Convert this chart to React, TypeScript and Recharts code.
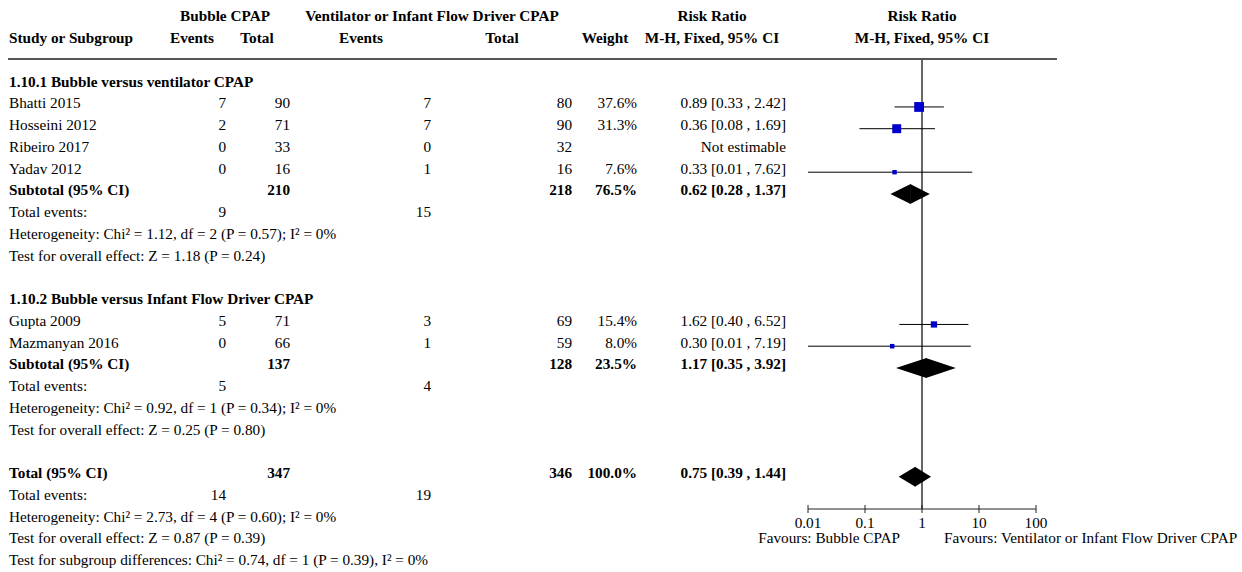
import React from 'react';
import {
  ComposedChart,
  XAxis,
  YAxis,
  Scatter,
  ReferenceLine,
  ReferenceDot,
  ReferenceArea,
} from 'recharts';

const FONT = '"Liberation Serif", "Times New Roman", Times, serif';
const FS = 15.25;

// ---------------- data ----------------
const subgroupTitles = [
  '1.10.1 Bubble versus ventilator CPAP',
  '1.10.2 Bubble versus Infant Flow Driver CPAP',
];
const studyNames = ['Bhatti 2015', 'Hosseini 2012', 'Ribeiro 2017', 'Yadav 2012', 'Gupta 2009', 'Mazmanyan 2016'];
const studySubgroup = [0, 0, 0, 0, 1, 1];
const bubbleEvents = [7, 2, 0, 0, 5, 0];
const bubbleTotals = [90, 71, 33, 16, 71, 66];
const ventEvents = [7, 7, 0, 1, 3, 1];
const ventTotals = [80, 90, 32, 16, 69, 59];
const studyWeights: (number | null)[] = [37.6, 31.3, null, 7.6, 15.4, 8.0];
const studyRR: (number | null)[] = [0.89, 0.36, null, 0.33, 1.62, 0.3];
const studyLow: (number | null)[] = [0.33, 0.08, null, 0.01, 0.4, 0.01];
const studyHigh: (number | null)[] = [2.42, 1.69, null, 7.62, 6.52, 7.19];

const subBubbleEvents = [9, 5];
const subBubbleTotals = [210, 137];
const subVentEvents = [15, 4];
const subVentTotals = [218, 128];
const subWeights = [76.5, 23.5];
const subRR = [0.62, 1.17];
const subLow = [0.28, 0.35];
const subHigh = [1.37, 3.92];
const subHeterogeneity = [
  'Heterogeneity: Chi² = 1.12, df = 2 (P = 0.57); I² = 0%',
  'Heterogeneity: Chi² = 0.92, df = 1 (P = 0.34); I² = 0%',
];
const subOverallEffect = [
  'Test for overall effect: Z = 1.18 (P = 0.24)',
  'Test for overall effect: Z = 0.25 (P = 0.80)',
];

const totalBubbleEvents = 14;
const totalBubbleTotal = 347;
const totalVentEvents = 19;
const totalVentTotal = 346;
const totalWeight = 100.0;
const totalRR = 0.75;
const totalLow = 0.39;
const totalHigh = 1.44;
const totalHeterogeneity = 'Heterogeneity: Chi² = 2.73, df = 4 (P = 0.60); I² = 0%';
const totalOverallEffect = 'Test for overall effect: Z = 0.87 (P = 0.39)';
const subgroupDifferences = 'Test for subgroup differences: Chi² = 0.74, df = 1 (P = 0.39), I² = 0%';

const axisTicks = [0.01, 0.1, 1, 10, 100];
const favoursLeft = 'Favours: Bubble CPAP';
const favoursRight = 'Favours: Ventilator or Infant Flow Driver CPAP';

// ---------------- layout ----------------
const COL = { name: 9, be: 226, bt: 290, ve: 431, vt: 572, w: 637, rr: 786 };
const Y_DOMAIN: [number, number] = [-1.2046, 19.485];

const headerTop = [
  { text: 'Bubble CPAP', x: 225 },
  { text: 'Ventilator or Infant Flow Driver CPAP', x: 432 },
  { text: 'Risk Ratio', x: 712 },
  { text: 'Risk Ratio', x: 922 },
];
const headerBottom = [
  { text: 'Study or Subgroup', x: 9, anchor: 'start' },
  { text: 'Events', x: 192 },
  { text: 'Total', x: 257 },
  { text: 'Events', x: 361 },
  { text: 'Total', x: 502 },
  { text: 'Weight', x: 605 },
  { text: 'M-H, Fixed, 95% CI', x: 712 },
  { text: 'M-H, Fixed, 95% CI', x: 922 },
];

// ---------------- rows ----------------
type Row = {
  kind: 'title' | 'study' | 'subtotal' | 'events' | 'note' | 'blank';
  label?: string;
  be?: number;
  bt?: number;
  ve?: number;
  vt?: number;
  w?: number | null;
  rr?: number | null;
  lo?: number | null;
  hi?: number | null;
};

const rows: Row[] = [];
subgroupTitles.forEach((title, g) => {
  rows.push({ kind: 'title', label: title });
  studyNames.forEach((name, i) => {
    if (studySubgroup[i] !== g) return;
    rows.push({
      kind: 'study',
      label: name,
      be: bubbleEvents[i],
      bt: bubbleTotals[i],
      ve: ventEvents[i],
      vt: ventTotals[i],
      w: studyWeights[i],
      rr: studyRR[i],
      lo: studyLow[i],
      hi: studyHigh[i],
    });
  });
  rows.push({
    kind: 'subtotal',
    label: 'Subtotal (95% CI)',
    bt: subBubbleTotals[g],
    vt: subVentTotals[g],
    w: subWeights[g],
    rr: subRR[g],
    lo: subLow[g],
    hi: subHigh[g],
  });
  rows.push({ kind: 'events', label: 'Total events:', be: subBubbleEvents[g], ve: subVentEvents[g] });
  rows.push({ kind: 'note', label: subHeterogeneity[g] });
  rows.push({ kind: 'note', label: subOverallEffect[g] });
  rows.push({ kind: 'blank' });
});
rows.push({
  kind: 'subtotal',
  label: 'Total (95% CI)',
  bt: totalBubbleTotal,
  vt: totalVentTotal,
  w: totalWeight,
  rr: totalRR,
  lo: totalLow,
  hi: totalHigh,
});
rows.push({ kind: 'events', label: 'Total events:', be: totalBubbleEvents, ve: totalVentEvents });
rows.push({ kind: 'note', label: totalHeterogeneity });
rows.push({ kind: 'note', label: totalOverallEffect });
rows.push({ kind: 'note', label: subgroupDifferences });

const fmtRR = (r: Row) =>
  r.rr == null ? 'Not estimable' : `${r.rr.toFixed(2)} [${(r.lo as number).toFixed(2)} , ${(r.hi as number).toFixed(2)}]`;

const studyPoints = rows
  .map((r, i) => ({ ...r, y: i, x: r.rr }))
  .filter((r) => r.kind === 'study' && r.rr != null);
const diamondRows = rows.map((r, i) => ({ ...r, y: i })).filter((r) => r.kind === 'subtotal');
const ciRows = studyPoints;

// ---------------- drawing helpers ----------------
const T = (props: any) => (
  <text
    fontFamily={FONT}
    fontSize={FS}
    fill="#000"
    textAnchor={props.anchor || 'start'}
    fontWeight={props.bold ? 'bold' : 'normal'}
    x={props.x}
    y={props.y}
  >
    {props.children}
  </text>
);

const RowText = ({ cy, row }: { cy: number; row: Row }) => {
  const y = cy + 1.5;
  const bold = row.kind === 'title' || row.kind === 'subtotal';
  const cells: React.ReactNode[] = [];
  if (row.label) cells.push(<T key="n" x={COL.name} y={y} bold={bold}>{row.label}</T>);
  if (row.be != null) cells.push(<T key="be" x={COL.be} y={y} anchor="end" bold={bold}>{row.be}</T>);
  if (row.bt != null) cells.push(<T key="bt" x={COL.bt} y={y} anchor="end" bold={bold}>{row.bt}</T>);
  if (row.ve != null) cells.push(<T key="ve" x={COL.ve} y={y} anchor="end" bold={bold}>{row.ve}</T>);
  if (row.vt != null) cells.push(<T key="vt" x={COL.vt} y={y} anchor="end" bold={bold}>{row.vt}</T>);
  if (row.kind === 'study' || row.kind === 'subtotal') {
    if (row.w != null) cells.push(<T key="w" x={COL.w} y={y} anchor="end" bold={bold}>{row.w.toFixed(1) + '%'}</T>);
    cells.push(<T key="rr" x={COL.rr} y={y} anchor="end" bold={bold}>{fmtRR(row)}</T>);
  }
  return <g>{cells}</g>;
};

const SquareShape = (p: any) => {
  const s = 1.6 * Math.sqrt(p.payload.w);
  return <rect x={p.cx - s / 2} y={p.cy - s / 2} width={s} height={s} fill="#0000CC" />;
};

const LeftHalf = (p: any) => (
  <polygon
    points={`${p.x},${p.y + p.height / 2} ${p.x + p.width + 0.5},${p.y} ${p.x + p.width + 0.5},${p.y + p.height}`}
    fill="#000"
  />
);
const RightHalf = (p: any) => (
  <polygon
    points={`${p.x},${p.y} ${p.x + p.width},${p.y + p.height / 2} ${p.x},${p.y + p.height}`}
    fill="#000"
  />
);
const NullLine = (p: any) => (
  <line x1={p.x} x2={p.x} y1={p.y} y2={p.y + p.height} stroke="#666" strokeWidth={2} />
);

const AxisTick = (p: any) => (
  <g>
    <line x1={p.x} x2={p.x} y1={p.y - 4} y2={p.y + 4} stroke="#222" strokeWidth={1} />
    <text x={p.x} y={p.y + 19} textAnchor="middle" fontFamily={FONT} fontSize={FS} fill="#000">
      {String(p.payload.value)}
    </text>
  </g>
);

const FavoursLabel = (p: any) => {
  const vb = p.viewBox || { x: 808, y: 509, width: 228 };
  const cx = vb.x + vb.width / 2;
  const y = vb.y + 34;
  return (
    <g>
      <text x={cx - 22} y={y} textAnchor="end" fontFamily={FONT} fontSize={FS} fill="#000">
        {favoursLeft}
      </text>
      <text x={cx + 22} y={y} textAnchor="start" fontFamily={FONT} fontSize={FS} fill="#000">
        {favoursRight}
      </text>
    </g>
  );
};

export default function App() {
  return (
    <div style={{ position: 'absolute', left: 0, top: 0, width: 1242, height: 572, background: '#fff' }}>
      <ComposedChart width={1242} height={572} margin={{ top: 59, right: 206, bottom: 0, left: 808 }}>
        <XAxis
          dataKey="x"
          type="number"
          scale="log"
          domain={[0.01, 100]}
          allowDataOverflow
          ticks={axisTicks}
          interval={0}
          height={63}
          tickSize={0}
          tickMargin={0}
          tickLine={false}
          axisLine={{ stroke: '#222', strokeWidth: 1 }}
          tick={<AxisTick />}
          label={{ content: <FavoursLabel /> }}
        />
        <YAxis dataKey="y" type="number" domain={Y_DOMAIN} reversed allowDataOverflow hide />

        {/* header texts */}
        <ReferenceDot
          x={1}
          y={-3}
          ifOverflow="visible"
          shape={(p: any) => (
            <g>
              {headerTop.map((h, i) => (
                <T key={i} x={h.x} y={p.cy + 1.5} anchor="middle" bold>
                  {h.text}
                </T>
              ))}
            </g>
          )}
        />
        <ReferenceDot
          x={1}
          y={-2}
          ifOverflow="visible"
          shape={(p: any) => (
            <g>
              {headerBottom.map((h, i) => (
                <T key={i} x={h.x} y={p.cy + 1.5} anchor={h.anchor || 'middle'} bold>
                  {h.text}
                </T>
              ))}
            </g>
          )}
        />
        <ReferenceDot
          x={1}
          y={Y_DOMAIN[0]}
          ifOverflow="visible"
          shape={(p: any) => <line x1={8} x2={1057} y1={p.cy} y2={p.cy} stroke="#555" strokeWidth={2} />}
        />

        {/* table rows */}
        {rows.map((row, i) => (
          <ReferenceDot
            key={'row' + i}
            x={1}
            y={i}
            ifOverflow="visible"
            shape={(p: any) => <RowText cy={p.cy} row={row} />}
          />
        ))}

        {/* line of no effect (drawn beneath the diamonds) */}
        <ReferenceArea x1={1} x2={1} ifOverflow="visible" shape={<NullLine />} />

        {/* confidence intervals */}
        {ciRows.map((r, i) => (
          <ReferenceLine
            key={'ci' + i}
            ifOverflow="visible"
            segment={[
              { x: r.lo as number, y: r.y },
              { x: r.hi as number, y: r.y },
            ]}
            stroke="#000"
            strokeWidth={1}
          />
        ))}

        {/* pooled diamonds */}
        {diamondRows.map((r, i) => (
          <ReferenceArea
            key={'dl' + i}
            x1={r.lo as number}
            x2={r.rr as number}
            y1={r.y - 0.46}
            y2={r.y + 0.46}
            ifOverflow="visible"
            shape={<LeftHalf />}
          />
        ))}
        {diamondRows.map((r, i) => (
          <ReferenceArea
            key={'dr' + i}
            x1={r.rr as number}
            x2={r.hi as number}
            y1={r.y - 0.46}
            y2={r.y + 0.46}
            ifOverflow="visible"
            shape={<RightHalf />}
          />
        ))}

        <Scatter data={studyPoints} isAnimationActive={false} shape={<SquareShape />} />
      </ComposedChart>
    </div>
  );
}
